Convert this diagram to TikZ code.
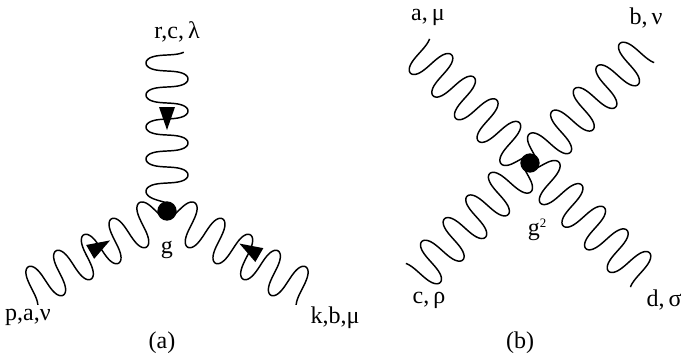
\documentclass[tikz,border=0pt]{standalone}
\usepackage{fontspec}
\setmainfont{Liberation Serif}

\tikzset{
  gluon/.style={line width=1.25pt, line join=round},
  vertexdot/.style={circle, fill=black, inner sep=0pt, minimum size=16.5pt},
  leglabel/.style={font=\fontsize{20.5}{23}\selectfont, inner sep=0pt},
}

% wavy line leaving a vertex: vertex, direction, side of the first lobe
\newcommand{\gluonline}[3]{
\draw[gluon, shift={(#1)}, rotate=#2] plot[domain=0:29.2, samples=260, variable=\t]
  ({12 + 5.093*\t - 2*sin(2*\t r) - 4*exp(-1.5*\t)}, {#3*21*sin(\t r)});
}
% head on a line: vertex, direction, position along it, offset from it
\newcommand{\gluonhead}[4]{
\fill[shift={(#1)}, rotate=#2] (#3,#4) -- ++(23,8) -- ++(0,-16) -- cycle;
}

\begin{document}
\begin{tikzpicture}[x=0.03cm, y=0.03cm]
\useasboundingbox (0,0) rectangle (681,356);

% (a)
\node[vertexdot] (vertexa) at (167,145) {};
\gluonline{vertexa}{90}{1}
\gluonline{vertexa}{210}{-1}
\gluonline{vertexa}{-30}{1}
\gluonhead{vertexa}{90}{81}{0}
\gluonhead{vertexa}{210}{64}{-3}
\gluonhead{vertexa}{-30}{79}{8}

\node[leglabel] (labelr) at (177,324) {r,c,\,λ};
\node[leglabel] (labelp) at (28,39) {p,a,ν};
\node[leglabel] (labelk) at (335,38) {k,b,μ};
\node[leglabel] (labelg) at (167,106) {g};
\node[leglabel] (captiona) at (162,13) {(a)};

% (b)
\node[vertexdot] (vertexb) at (530,193) {};
\foreach \ang in {45,135,225,315} {\gluonline{vertexb}{\ang}{1}} % the four legs

\node[leglabel] (labela) at (428,339) {a,\,μ};
\node[leglabel] (labelb) at (646,338) {b,\,ν};
\node[leglabel] (labelc) at (429,56) {c,\,ρ};
\node[leglabel] (labeld) at (664,56) {d,\,σ};
\node[leglabel] (labelgg) at (537,126) {g\raisebox{0.7ex}{\fontsize{11}{12}\selectfont 2}};
\node[leglabel] (captionb) at (520,13) {(b)};

\end{tikzpicture}
\end{document}
